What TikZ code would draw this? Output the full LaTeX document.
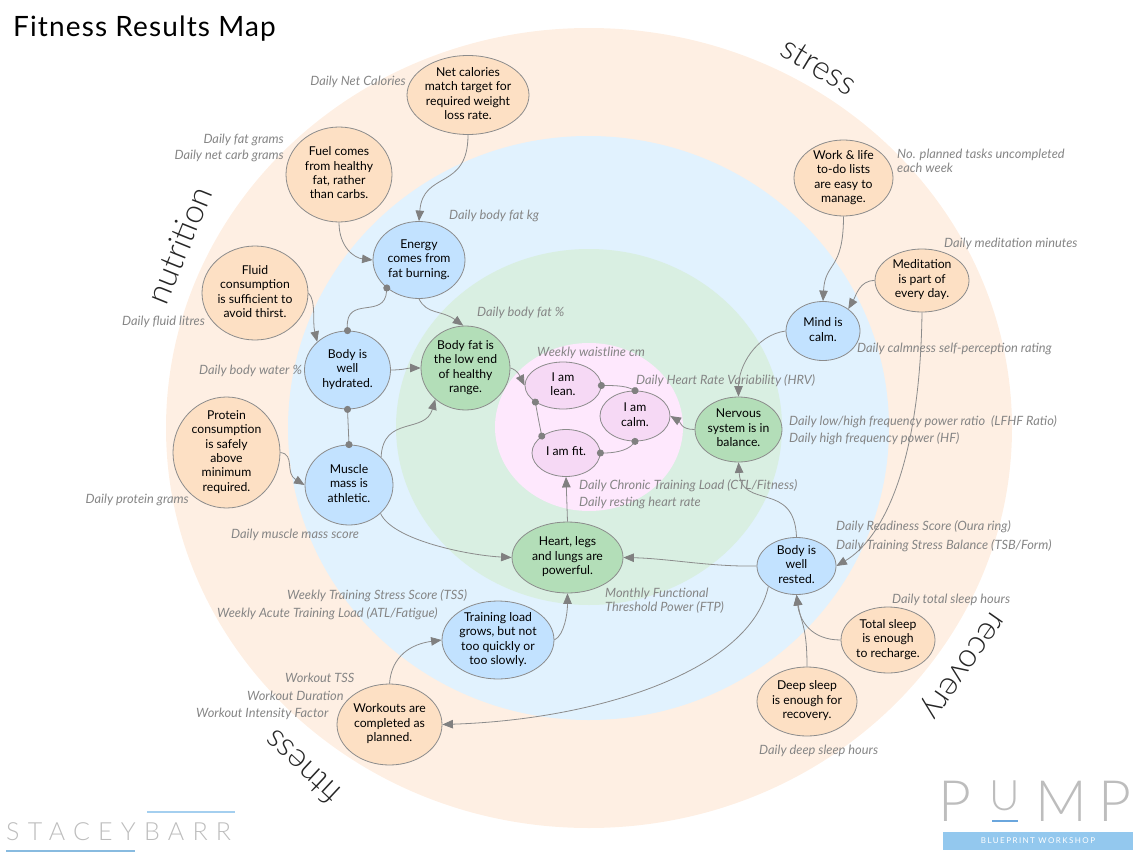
\documentclass[tikz,border=0pt]{standalone}
\usepackage{fontspec}
\setmainfont{Lato}
\newfontfamily\lightfont{Lato Light}
\usetikzlibrary{arrows.meta,shapes.geometric}
\definecolor{zoneO}{HTML}{FEEFE3}
\definecolor{zoneB}{HTML}{E1F2FE}
\definecolor{zoneG}{HTML}{D9EFE2}
\definecolor{zoneP}{HTML}{FEE8FD}
\definecolor{nodeO}{HTML}{FDE0C4}
\definecolor{nodeB}{HTML}{C2E2FF}
\definecolor{nodeG}{HTML}{B3DEB8}
\definecolor{nodeP}{HTML}{F6D9F5}
\definecolor{edge}{HTML}{8C8C8C}
\definecolor{tipc}{HTML}{808080}
\definecolor{lab}{HTML}{858585}
\definecolor{logo}{HTML}{BDBDBD}
\definecolor{barA}{HTML}{A4CFEF}
\definecolor{barB}{HTML}{88BBE0}
\definecolor{barC}{HTML}{6AA6DD}
\definecolor{barD}{HTML}{93C8EE}
\newcommand\tx[1]{\vbox to 0pt{\vss\hbox to 0pt{\hss\lower1.8pt\hbox{\begin{tabular}{@{}c@{}}#1\end{tabular}}\hss}\vss}}
\tikzset{
  res/.style n args={3}{ellipse,draw=edge,line width=.8pt,fill=#1,inner sep=0pt,minimum width=#2pt,minimum height=#3pt,text=black,font=\fontsize{12.2}{14.4}\selectfont},
  lbl/.style={text=lab,font=\fontsize{12.8}{14.4}\selectfont\itshape,inner sep=0pt},
  lw/.style={lbl,anchor=base west},
  le/.style={lbl,anchor=base east},
  big/.style={font=\lightfont\fontsize{33}{38}\selectfont,text=black!85,inner sep=0pt},
  logotext/.style={anchor=base west,inner sep=0pt,text=logo},
  conn/.style={draw=edge,line width=.8pt,-{Triangle[length=10.5pt,width=8.5pt,color=tipc]}},
  link/.style={draw=edge,line width=.8pt,{Circle[length=7pt,color=tipc]}-{Circle[length=7pt,color=tipc]},shorten <=-3.5pt,shorten >=-3.5pt},
}
\begin{document}
\begin{tikzpicture}[x=1pt,y=-1pt]
\useasboundingbox (0,0) rectangle (1146,859);
% zones
\fill[zoneO] (589,428) ellipse (423pt and 400pt);
\fill[zoneB] (588.5,428) ellipse (300.5pt and 292pt);
\fill[zoneG] (589,427) ellipse (193pt and 178pt);
\fill[zoneP] (589,427) ellipse (94pt and 84pt);
% results
\node[res={nodeO}{122}{79}] (net) at (468,95) {\tx{Net calories\\match target for\\required weight\\loss rate.}};
\node[res={nodeO}{106}{95}] (fuel) at (339,174.5) {\tx{Fuel comes\\from healthy\\fat, rather\\than carbs.}};
\node[res={nodeB}{92}{77}] (energy) at (419,260) {\tx{Energy\\comes from\\fat burning.}};
\node[res={nodeO}{106}{94}] (fluid) at (255,293) {\tx{Fluid\\consumption\\is sufficient to\\avoid thirst.}};
\node[res={nodeB}{86}{78}] (hydrated) at (347.5,370) {\tx{Body is\\well\\hydrated.}};
\node[res={nodeG}{89}{84}] (bodyfat) at (465.5,368) {\tx{Body fat is\\the low end\\of healthy\\range.}};
\node[res={nodeO}{107}{111}] (protein) at (226.5,452.5) {\tx{Protein\\consumption\\is safely\\above\\minimum\\required.}};
\node[res={nodeB}{88}{80}] (muscle) at (349,485) {\tx{Muscle\\mass is\\athletic.}};
\node[res={nodeP}{76}{47}] (lean) at (563,385.5) {\tx{I am\\lean.}};
\node[res={nodeP}{70}{50}] (calm) at (635,416) {\tx{I am\\calm.}};
\node[res={nodeP}{68}{47}] (fit) at (566,453) {\tx{I am fit.}};
\node[res={nodeG}{87}{65}] (nervous) at (738.5,429.5) {\tx{Nervous\\system is in\\balance.}};
\node[res={nodeG}{111}{71}] (heart) at (567.5,557.5) {\tx{Heart, legs\\and lungs are\\powerful.}};
\node[res={nodeB}{79}{57}] (rested) at (796.5,566) {\tx{Body is\\well\\rested.}};
\node[res={nodeB}{74}{59}] (mind) at (823,331) {\tx{Mind is\\calm.}};
\node[res={nodeO}{99}{76}] (work) at (843.5,178) {\tx{Work \& life\\to-do lists\\are easy to\\manage.}};
\node[res={nodeO}{94}{63}] (meditation) at (922,280.5) {\tx{Meditation\\is part of\\every day.}};
\node[res={nodeO}{94}{66}] (total) at (888,640) {\tx{Total sleep\\is enough\\to recharge.}};
\node[res={nodeO}{100}{69}] (deep) at (807,701.5) {\tx{Deep sleep\\is enough for\\recovery.}};
\node[res={nodeB}{112}{78}] (training) at (498,640) {\tx{Training load\\grows, but not\\too quickly or\\too slowly.}};
\node[res={nodeO}{105}{81}] (workouts) at (389.5,724.5) {\tx{Workouts are\\completed as\\planned.}};
% connectors
\draw[conn] (net.270) .. controls +(0,56) and +(4,-51) .. (energy.90);
\draw[conn] (fuel.270) .. controls +(0,25) and +(-18,-2) .. (energy.180);
\draw[link] (energy.221) .. controls +(-2,32) and +(-2,-36) .. (hydrated.90);
\draw[conn] (energy.270) .. controls +(8,16) and +(-22,-16) .. (bodyfat.93);
\draw[conn] (fluid.0) .. controls +(8,8) and +(-5,-20) .. (hydrated.137);
\draw[conn] (hydrated.0) .. controls +(12,0) and +(-12,0) .. (bodyfat.180);
\draw[link] (hydrated.270) -- (muscle.90);
\draw[conn] (protein.0) .. controls +(15,2) and +(-20,-12) .. (muscle.180);
\draw[conn] (muscle.41) .. controls +(2,-42) and +(-10,35) .. (bodyfat.226);
\draw[conn] (muscle.-42) .. controls +(12,27) and +(-42,-2) .. (heart.180);
\draw[conn] (heart.90) -- (fit.270);
\draw[conn] (training.0) .. controls +(10,-5) and +(0,20) .. (heart.270);
\draw[conn] (workouts.90) .. controls +(2,-28) and +(-30,4) .. (training.180);
\draw[conn] (rested.216) .. controls +(-18,83) and +(158,-5) .. (workouts.0);
\draw[conn] (rested.180) .. controls +(-45,1) and +(45,1) .. (heart.0);
\draw[conn] (rested.90) .. controls +(-2,-57) and +(3,48) .. (nervous.270);
\draw[conn] (nervous.180) .. controls +(-14,0) and +(10,6) .. (calm.0);
\draw[conn] (mind.180) .. controls +(-30,4) and +(0,-30) .. (nervous.90);
\draw[conn] (work.270) .. controls +(0,55) and +(2,-40) .. (mind.90);
\draw[conn] (meditation.180) .. controls +(-15,0) and +(8,-14) .. (mind.41);
\draw[conn] (meditation.270) .. controls +(-2,158) and +(44,-26) .. (rested.0);
\draw[conn] (total.180) .. controls +(-30,0) and +(3,25) .. (rested.270);
\draw[conn] (deep.90) .. controls +(0,-40) and +(5,30) .. (rested.270);
\draw[link] (lean.0) .. controls +(12,0) and +(-10,-5) .. (calm.90);
\draw[link] (calm.270) .. controls +(-8,10) and +(12,0) .. (fit.0);
\draw[link] (fit.145) .. controls +(-2,-10) and +(2,12) .. (lean.211);
\draw[conn] (bodyfat.0) .. controls +(7,2) and +(-5,-10) .. (lean.180);
% measures
\node[le] (m1) at (406,85) {Daily Net Calories};
\node[le] (m2) at (284,143) {Daily fat grams};
\node[le] (m3) at (284,159) {Daily net carb grams};
\node[lw] (m4) at (449,219) {Daily body fat kg};
\node[lw] (m5) at (477,316) {Daily body fat \%};
\node[lw] (m6) at (537,356) {Weekly waistline cm};
\node[lw] (m7) at (636,384) {Daily Heart Rate Variability (HRV)};
\node[lw] (m8) at (789,425) {Daily low/high frequency power ratio\ \ (LFHF Ratio)};
\node[lw] (m9) at (789,442) {Daily high frequency power (HF)};
\node[lw] (m10) at (579,489) {Daily Chronic Training Load (CTL/Fitness)};
\node[lw] (m11) at (579,506) {Daily resting heart rate};
\node[lw] (m12) at (836,530) {Daily Readiness Score (Oura ring)};
\node[lw] (m13) at (836,549) {Daily Training Stress Balance (TSB/Form)};
\node[lw] (m14) at (892,603) {Daily total sleep hours};
\node[lw] (m15) at (759,754) {Daily deep sleep hours};
\node[lw] (m16) at (605,597) {Monthly Functional};
\node[lw] (m17) at (605,611) {Threshold Power (FTP)};
\node[lw] (m18) at (287,599) {Weekly Training Stress Score (TSS)};
\node[lw] (m19) at (217,617) {Weekly Acute Training Load (ATL/Fatigue)};
\node[lw] (m20) at (285,682) {Workout TSS};
\node[lw] (m21) at (247,700) {Workout Duration};
\node[lw] (m22) at (196,717) {Workout Intensity Factor};
\node[lw] (m23) at (122,325) {Daily fluid litres};
\node[lw] (m24) at (199,374) {Daily body water \%};
\node[le] (m25) at (189,503) {Daily protein grams};
\node[lw] (m26) at (231,538) {Daily muscle mass score};
\node[lw] (m27) at (897,158) {No. planned tasks uncompleted};
\node[lw] (m28) at (897,172) {each week};
\node[lw] (m29) at (944,247) {Daily meditation minutes};
\node[lw] (m30) at (857,352) {Daily calmness self-perception rating};
% title and zone names
\node[anchor=base west,inner sep=0pt,font=\fontsize{28}{32}\selectfont] (title) at (13,37) {\addfontfeatures{LetterSpace=4}Fitness Results Map};
\node[big,rotate=68] (nutrition) at (179,245) {nutrition};
\node[big,rotate=-31] (stress) at (819,66) {stress};
\node[big,rotate=235] (recovery) at (961,664) {recovery};
\node[big,rotate=137] (fitness) at (302,768) {fitness};
% logos
\node[logotext,font=\lightfont\fontsize{25}{30}\selectfont] (stacey) at (6,840) {\addfontfeatures{LetterSpace=33}STACEYBARR};
\draw[barA,line width=1.2pt] (147,812) -- (235,812);
\draw[barB,line width=1.5pt] (6,851) -- (135,851);
\node[logotext,font=\lightfont\fontsize{57}{60}\selectfont] (p1) at (938,821) {P};
\node[logotext,font=\lightfont\fontsize{42}{50}\selectfont] (u1) at (989,810) {U};
\node[logotext,font=\lightfont\fontsize{57}{60}\selectfont] (m) at (1035,821) {M};
\node[logotext,font=\lightfont\fontsize{57}{60}\selectfont] (p2) at (1098,821) {P};
\draw[barC,line width=1.2pt] (992,821) -- (1018,821);
\node[fill=barD,minimum width=190pt,minimum height=18pt,inner sep=0pt,text=white,font=\fontsize{8}{9}\selectfont] (bw) at (1038,841) {\addfontfeatures{LetterSpace=18}BLUEPRINT WORKSHOP};
\end{tikzpicture}
\end{document}
